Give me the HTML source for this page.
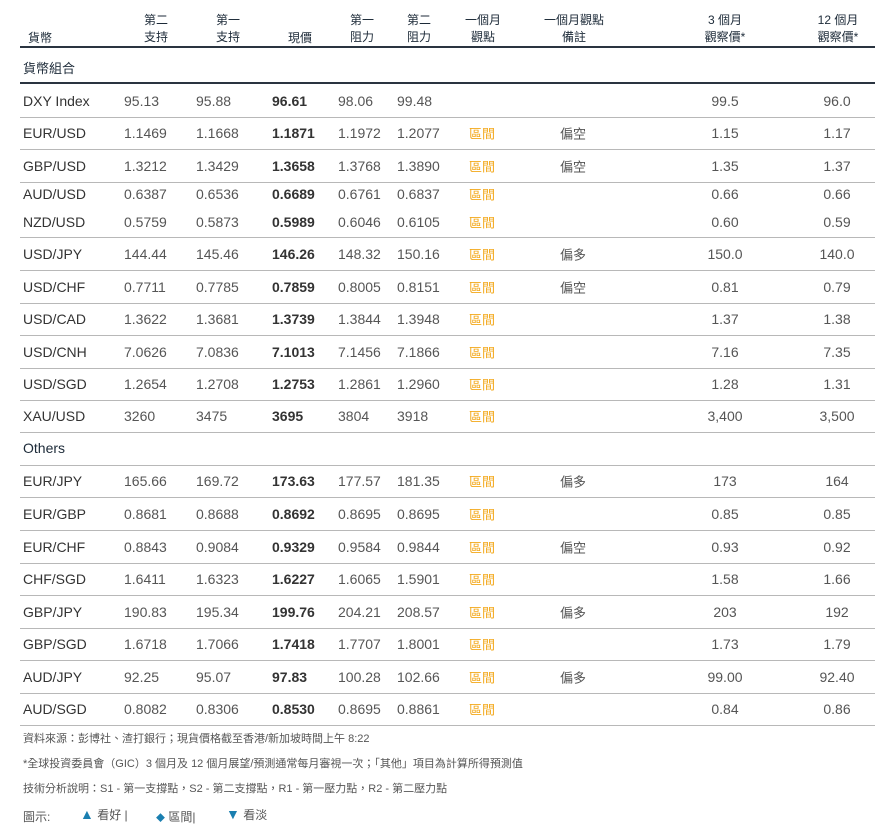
<!DOCTYPE html>
<html><head><meta charset="utf-8"><style>
body{margin:0;width:884px;height:833px;background:#fff;position:relative;overflow:hidden;font-family:"Liberation Sans","Noto Sans CJK TC",sans-serif;}
.a{position:absolute;white-space:nowrap;}
.h{font-size:12px;color:#1c2a38;text-align:center;line-height:17px;transform:translateX(-50%);}
.l{position:absolute;left:20px;width:855px;height:1px;background:#b8b8b8;}
.d{background:#2a3440;height:2px;}
.t{font-size:14px;color:#555;transform:translateY(-50%);}
.b{font-weight:bold;color:#333;}
.o{color:#f3a81b;font-size:13px;}
.c{font-size:13px;}
.f{font-size:11px;color:#555;}
</style></head><body>
<div class="a h" style="left:40px;top:30px">貨幣</div>
<div class="a h" style="left:156px;top:12px">第二<br>支持</div>
<div class="a h" style="left:228px;top:12px">第一<br>支持</div>
<div class="a h" style="left:300px;top:30px">現價</div>
<div class="a h" style="left:362px;top:12px">第一<br>阻力</div>
<div class="a h" style="left:419px;top:12px">第二<br>阻力</div>
<div class="a h" style="left:483px;top:12px">一個月<br>觀點</div>
<div class="a h" style="left:574px;top:12px">一個月觀點<br>備註</div>
<div class="a h" style="left:725px;top:12px">3 個月<br>觀察價*</div>
<div class="a h" style="left:838px;top:12px">12 個月<br>觀察價*</div>
<div class="l d" style="top:46px"></div>
<div class="a" style="left:23px;top:58px;font-size:13px;color:#1c2a38">貨幣組合</div>
<div class="l d" style="top:82px"></div>
<div class="a" style="left:23px;top:440px;font-size:14px;color:#1c2a38">Others</div>
<div id="rows"></div>
<script>
var R=[
["DXY Index","95.13","95.88","96.61","98.06","99.48","","","99.5","96.0",101],
["EUR/USD","1.1469","1.1668","1.1871","1.1972","1.2077","區間","偏空","1.15","1.17",133],
["GBP/USD","1.3212","1.3429","1.3658","1.3768","1.3890","區間","偏空","1.35","1.37",166],
["AUD/USD","0.6387","0.6536","0.6689","0.6761","0.6837","區間","","0.66","0.66",194],
["NZD/USD","0.5759","0.5873","0.5989","0.6046","0.6105","區間","","0.60","0.59",222],
["USD/JPY","144.44","145.46","146.26","148.32","150.16","區間","偏多","150.0","140.0",254],
["USD/CHF","0.7711","0.7785","0.7859","0.8005","0.8151","區間","偏空","0.81","0.79",287],
["USD/CAD","1.3622","1.3681","1.3739","1.3844","1.3948","區間","","1.37","1.38",319],
["USD/CNH","7.0626","7.0836","7.1013","7.1456","7.1866","區間","","7.16","7.35",352],
["USD/SGD","1.2654","1.2708","1.2753","1.2861","1.2960","區間","","1.28","1.31",384],
["XAU/USD","3260","3475","3695","3804","3918","區間","","3,400","3,500",416],
["EUR/JPY","165.66","169.72","173.63","177.57","181.35","區間","偏多","173","164",481],
["EUR/GBP","0.8681","0.8688","0.8692","0.8695","0.8695","區間","","0.85","0.85",514],
["EUR/CHF","0.8843","0.9084","0.9329","0.9584","0.9844","區間","偏空","0.93","0.92",547],
["CHF/SGD","1.6411","1.6323","1.6227","1.6065","1.5901","區間","","1.58","1.66",579],
["GBP/JPY","190.83","195.34","199.76","204.21","208.57","區間","偏多","203","192",612],
["GBP/SGD","1.6718","1.7066","1.7418","1.7707","1.8001","區間","","1.73","1.79",644],
["AUD/JPY","92.25","95.07","97.83","100.28","102.66","區間","偏多","99.00","92.40",677],
["AUD/SGD","0.8082","0.8306","0.8530","0.8695","0.8861","區間","","0.84","0.86",709]];
var X=[23,124,196,272,338,397,469,560];
var h="";
R.forEach(function(r){var y=r[10];
for(var i=0;i<8;i++){if(!r[i])continue;var c="a t"+(i==3?" b":"")+(i==6?" o":"")+(i==7?" c":"");
h+='<div class="'+c+'" style="left:'+X[i]+'px;top:'+y+'px;'+(i==0?'color:#333;':'')+'">'+r[i]+'</div>';}
h+='<div class="a t" style="left:725px;top:'+y+'px;transform:translate(-50%,-50%)">'+r[8]+'</div>';
h+='<div class="a t" style="left:837px;top:'+y+'px;transform:translate(-50%,-50%)">'+r[9]+'</div>';});
[117,149,182,237,270,303,335,368,400,432,465,497,530,563,595,628,660,693,725].forEach(function(y){h+='<div class="l" style="top:'+y+'px"></div>';});
document.getElementById("rows").innerHTML=h;
</script>
<div class="a f" style="left:23px;top:730px">資料來源：彭博社、渣打銀行；現貨價格截至香港/新加坡時間上午 8:22</div>
<div class="a f" style="left:23px;top:755px">*全球投資委員會（GIC）3 個月及 12 個月展望/預測通常每月審視一次；「其他」項目為計算所得預測值</div>
<div class="a f" style="left:23px;top:780px">技術分析說明：S1 - 第一支撐點，S2 - 第二支撐點，R1 - 第一壓力點，R2 - 第二壓力點</div>
<div class="a f" style="left:23px;top:808px;font-size:12px">圖示:</div>
<div class="a f" style="left:80px;top:806px;font-size:12px"><span style="color:#1a7fb0;font-size:14px">▲</span> 看好 |</div>
<div class="a f" style="left:156px;top:808px;font-size:12px"><span style="color:#1a7fb0;font-size:9px">◆</span> 區間|</div>
<div class="a f" style="left:226px;top:806px;font-size:12px"><span style="color:#1a7fb0;font-size:14px">▼</span> 看淡</div>
</body></html>
